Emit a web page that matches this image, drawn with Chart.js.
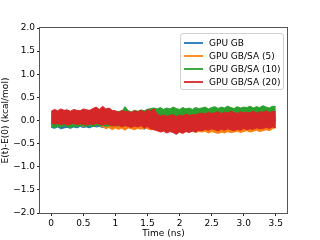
<!DOCTYPE html>
<html>
<head>
<meta charset="utf-8">
<script src="https://cdn.jsdelivr.net/npm/chart.js@4.4.0/dist/chart.umd.min.js"></script>
<style>
  body { margin: 0; background: #fff; }
  #wrap { position: relative; width: 320px; height: 240px; }
  #legend {
    position: absolute; left: 180px; top: 33px; width: 102px; height: 55px;
    border: 1px solid #d0d0d0; border-radius: 3px; background: rgba(255,255,255,0.85);
    font: 9px "DejaVu Sans", sans-serif; color: #000;
  }
  .row { position: absolute; left: 0; height: 12px; line-height: 12px; white-space: nowrap; }
  .swatch { position: absolute; left: 3px; top: 5px; width: 19px; height: 2px; opacity: 0.9; }
  .txt { position: absolute; left: 28px; top: 0; }
</style>
</head>
<body>
<div id="wrap">
  <canvas id="chart" width="320" height="240"></canvas>
  <div id="legend"></div>
</div>
<script>
const seriesNames = ["GPU GB", "GPU GB/SA (5)", "GPU GB/SA (10)", "GPU GB/SA (20)"];
const colors = ["#1f77b4", "#ff7f0e", "#2ca02c", "#d62728"];
const xTickValues = [0, 0.5, 1, 1.5, 2, 2.5, 3, 3.5];
const xTickLabels = ["0", "0.5", "1", "1.5", "2", "2.5", "3.0", "3.5"];

// time in ns
const times = [0, 0.05, 0.1, 0.15, 0.2, 0.25, 0.3, 0.35, 0.4, 0.45, 0.5, 0.55, 0.6, 0.65, 0.7, 0.75, 0.8, 0.85, 0.9, 0.95,
  1.0, 1.05, 1.1, 1.15, 1.2, 1.25, 1.3, 1.35, 1.4, 1.45, 1.5, 1.55, 1.6,
  1.65, 1.7, 1.75, 1.8, 1.85, 1.9, 1.95, 2.0, 2.05, 2.1, 2.15, 2.2, 2.25, 2.3,
  2.35, 2.4, 2.45, 2.5, 2.55, 2.6, 2.65, 2.7, 2.75, 2.8, 2.85, 2.9, 2.95, 3.0, 3.05, 3.1, 3.15, 3.2, 3.25, 3.3, 3.35, 3.4, 3.45, 3.5];

// upper / lower edge of each noisy trace (kcal/mol)
const gbHigh = [0.12, 0.10, 0.13, 0.11, 0.09, 0.12, 0.10, 0.13, 0.11, 0.12, 0.10, 0.13, 0.09, 0.11, 0.12, 0.10, 0.13, 0.11, 0.09, 0.12,
  0.10, 0.12, 0.11, 0.09, 0.13, 0.10, 0.12, 0.11, 0.09, 0.12, 0.10, 0.11, 0.08,
  0.06, 0.08, 0.05, 0.07, 0.06, 0.04, 0.07, 0.05, 0.06, 0.08, 0.05, 0.07, 0.06, 0.08,
  0.09, 0.07, 0.10, 0.08, 0.09, 0.11, 0.08, 0.10, 0.09, 0.07, 0.10, 0.08, 0.11, 0.09, 0.08, 0.10, 0.09, 0.11, 0.08, 0.10, 0.09, 0.11, 0.10, 0.09];
const gbLow = [-0.15, -0.17, -0.14, -0.18, -0.16, -0.15, -0.17, -0.14, -0.16, -0.13, -0.15, -0.14, -0.16, -0.12, -0.14, -0.13, -0.15, -0.12, -0.14, -0.13,
  -0.12, -0.14, -0.11, -0.13, -0.12, -0.15, -0.13, -0.12, -0.16, -0.19, -0.14, -0.12, -0.10,
  -0.09, -0.11, -0.08, -0.10, -0.12, -0.09, -0.11, -0.08, -0.10, -0.09, -0.12, -0.10, -0.08, -0.11,
  -0.10, -0.08, -0.11, -0.09, -0.12, -0.10, -0.08, -0.11, -0.09, -0.10, -0.12, -0.08, -0.10, -0.09, -0.11, -0.10, -0.08, -0.12, -0.09, -0.10, -0.11, -0.09, -0.10, -0.08];

const sa5High = [0.12, 0.14, 0.11, 0.13, 0.10, 0.12, 0.14, 0.11, 0.13, 0.12, 0.10, 0.13, 0.11, 0.14, 0.12, 0.10, 0.13, 0.11, 0.12, 0.14,
  0.11, 0.13, 0.10, 0.12, 0.14, 0.11, 0.13, 0.12, 0.10, 0.13, 0.11, 0.12, 0.10,
  0.08, 0.10, 0.07, 0.09, 0.11, 0.08, 0.10, 0.07, 0.09, 0.08, 0.10, 0.07, 0.09, 0.08,
  0.10, 0.12, 0.09, 0.11, 0.10, 0.13, 0.09, 0.11, 0.12, 0.10, 0.09, 0.12, 0.11, 0.10, 0.13, 0.09, 0.11, 0.10, 0.12, 0.09, 0.11, 0.10, 0.12, 0.11];
const sa5Low = [-0.10, -0.12, -0.11, -0.13, -0.10, -0.12, -0.11, -0.09, -0.12, -0.10, -0.13, -0.11, -0.10, -0.12, -0.09, -0.11, -0.13,
  -0.18, -0.15, -0.20, -0.16, -0.19, -0.17, -0.21, -0.16, -0.18, -0.20, -0.17, -0.19, -0.16, -0.18, -0.20, -0.19,
  -0.20, -0.22, -0.19, -0.21, -0.23, -0.20, -0.22, -0.19, -0.21, -0.23, -0.25, -0.22, -0.26, -0.24,
  -0.25, -0.23, -0.27, -0.24, -0.26, -0.28, -0.25, -0.27, -0.24, -0.26, -0.25, -0.23, -0.26, -0.24, -0.22, -0.25, -0.23, -0.21, -0.24, -0.22, -0.20, -0.22, -0.18, -0.15];

const sa10High = [0.18, 0.20, 0.19, 0.21, 0.18, 0.20, 0.19, 0.21, 0.18, 0.20, 0.19, 0.21, 0.20, 0.22, 0.21, 0.20, 0.23, 0.21, 0.20, 0.19,
  0.18, 0.20, 0.19, 0.30, 0.21, 0.19, 0.22, 0.20, 0.23, 0.21, 0.24, 0.26, 0.27,
  0.25, 0.28, 0.24, 0.27, 0.25, 0.29, 0.26, 0.24, 0.28, 0.25, 0.27, 0.24, 0.28, 0.26,
  0.27, 0.29, 0.25, 0.28, 0.30, 0.26, 0.29, 0.27, 0.31, 0.28, 0.26, 0.30, 0.27, 0.29, 0.28, 0.31, 0.27, 0.30, 0.28, 0.32, 0.29, 0.27, 0.31, 0.30];
const sa10Low = [-0.12, -0.15, -0.13, -0.14, -0.11, -0.13, -0.15, -0.12, -0.14, -0.10, -0.12, -0.13, -0.11, -0.14, -0.09, -0.12, -0.10, -0.13, -0.11, -0.12,
  -0.10, -0.12, -0.09, -0.11, -0.10, -0.12, -0.09, -0.11, -0.08, -0.10, -0.07, -0.06, -0.04,
  -0.02, -0.01, -0.03, 0.00, -0.02, -0.01, -0.03, -0.02, 0.00, -0.01, -0.02, -0.03, -0.01, -0.02,
  -0.01, -0.03, -0.02, 0.00, -0.02, -0.01, -0.03, -0.02, -0.01, 0.00, -0.02, -0.03, -0.01, -0.02, 0.00, -0.01, -0.03, -0.02, -0.01, -0.02, 0.00, -0.01, -0.02, -0.01];

const sa20High = [0.20, 0.24, 0.21, 0.25, 0.22, 0.23, 0.20, 0.24, 0.22, 0.21, 0.25, 0.23, 0.22, 0.26, 0.29, 0.24, 0.31, 0.25, 0.27, 0.22,
  0.21, 0.18, 0.22, 0.19, 0.20, 0.17, 0.21, 0.19, 0.22, 0.18, 0.24, 0.20, 0.26,
  0.14, 0.10, 0.12, 0.09, 0.11, 0.13, 0.08, 0.12, 0.10, 0.14, 0.11, 0.13, 0.12, 0.15,
  0.16, 0.14, 0.18, 0.15, 0.17, 0.19, 0.15, 0.18, 0.16, 0.20, 0.17, 0.15, 0.19, 0.16, 0.18, 0.17, 0.20, 0.16, 0.19, 0.18, 0.21, 0.17, 0.20, 0.19];
const sa20Low = [-0.05, -0.08, -0.06, -0.09, -0.07, -0.10, -0.08, -0.06, -0.09, -0.07, -0.08, -0.10, -0.07, -0.09, -0.06, -0.08, -0.10, -0.07, -0.09, -0.11,
  -0.12, -0.10, -0.14, -0.11, -0.13, -0.15, -0.12, -0.14, -0.11, -0.16, -0.13, -0.18, -0.20,
  -0.22, -0.25, -0.23, -0.27, -0.24, -0.26, -0.30, -0.25, -0.28, -0.24, -0.26, -0.23, -0.25, -0.21,
  -0.22, -0.19, -0.21, -0.18, -0.20, -0.22, -0.19, -0.21, -0.18, -0.20, -0.22, -0.19, -0.21, -0.17, -0.20, -0.18, -0.19, -0.16, -0.18, -0.17, -0.15, -0.17, -0.14, -0.16];

const highs = [gbHigh, sa5High, sa10High, sa20High];
const lows = [gbLow, sa5Low, sa10Low, sa20Low];

const toPoints = (arr) => arr.map((v, i) => ({ x: times[i], y: v }));

// red first so it is painted last (on top)
const datasets = [];
for (let s = seriesNames.length - 1; s >= 0; s--) {
  datasets.push({
    label: seriesNames[s],
    data: toPoints(highs[s]),
    borderColor: colors[s],
    backgroundColor: colors[s],
    borderWidth: 1,
    pointRadius: 0,
    fill: "+1",
  });
  datasets.push({
    label: "",
    data: toPoints(lows[s]),
    borderColor: colors[s],
    backgroundColor: colors[s],
    borderWidth: 1,
    pointRadius: 0,
    fill: false,
  });
}

const frame = {
  id: "frame",
  afterDraw(c) {
    const a = c.chartArea;
    const ctx = c.ctx;
    ctx.save();
    ctx.strokeStyle = "#555";
    ctx.lineWidth = 1;
    ctx.strokeRect(Math.round(a.left) - 0.5, Math.round(a.top) - 0.5, Math.round(a.right - a.left) + 1, Math.round(a.bottom - a.top) + 1);
    ctx.restore();
  },
};

Chart.defaults.font.family = "'DejaVu Sans', sans-serif";
Chart.defaults.font.size = 9;
Chart.defaults.color = "#000";

new Chart(document.querySelector("#chart"), {
  type: "line",
  data: { datasets: datasets },
  options: {
    responsive: false,
    animation: false,
    layout: { padding: { top: 28, right: 33, left: 0, bottom: 0 } },
    plugins: { legend: { display: false }, tooltip: { enabled: false } },
    scales: {
      x: {
        type: "linear",
        min: -0.175,
        max: 3.675,
        afterBuildTicks: (scale) => {
          scale.ticks = xTickValues.map((v) => ({ value: v }));
        },
        afterFit: (scale) => { scale.height = 27; },
        ticks: {
          padding: 2,
          maxRotation: 0,
          callback: (v) => xTickLabels[xTickValues.indexOf(v)],
        },
        grid: { drawOnChartArea: false, tickLength: 3, tickColor: "#222" },
        border: { display: false },
        title: { display: true, text: "Time (ns)", padding: { top: 0, bottom: 1 } },
      },
      y: {
        min: -2,
        max: 2,
        afterFit: (scale) => { scale.width = 40; },
        ticks: {
          stepSize: 0.5,
          padding: 2,
          callback: (v) => (v < 0 ? "\u2212" : "") + Math.abs(v).toFixed(1),
        },
        grid: { drawOnChartArea: false, tickLength: 3, tickColor: "#222" },
        border: { display: false },
        title: { display: true, text: "E(t)-E(0) (kcal/mol)", padding: { top: 0, bottom: 0 } },
      },
    },
  },
  plugins: [frame],
});

// legend box in the upper right of the plot
const legend = document.querySelector("#legend");
const rowTops = [3, 16, 29, 42];
seriesNames.forEach((name, i) => {
  legend.insertAdjacentHTML("beforeend",
    `<div class="row" style="top:${rowTops[i]}px"><span class="swatch" style="background:${colors[i]}"></span><span class="txt">${name}</span></div>`);
});
</script>
</body>
</html>
